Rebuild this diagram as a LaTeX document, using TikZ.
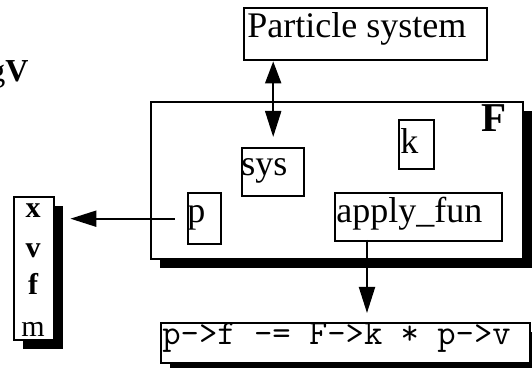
\documentclass[tikz,border=0pt]{standalone}
\usepackage{fontspec}
\setmainfont{Liberation Serif}
\usetikzlibrary{calc, arrows.meta, shadows}

\tikzset{
    box/.style={draw, line width=1.2pt, fill=white, inner sep=0pt, anchor=north west},
    shadowbox/.style={box, drop shadow={shadow xshift=4.5pt, shadow yshift=-4.5pt,
        fill=black, opacity=1}},
    lbl/.style={inner sep=0pt, anchor=north west, text height=15pt,
        font=\fontsize{18pt}{20pt}\selectfont},
    field/.style={anchor=base, inner sep=0pt, font=\fontsize{15pt}{17pt}\selectfont\bfseries},
    arr/.style={line width=1pt, -{Triangle[length=13pt, width=8pt]}},
}

\begin{document}
\begin{tikzpicture}[x=0.5pt, y=-0.5pt]
    \useasboundingbox (0,0) rectangle (532,368);

    % outer function object
    \node[shadowbox, minimum width=186pt, minimum height=78.5pt] (Fbox) at (150,101) {};
    \node[inner sep=0pt, anchor=base west, font=\fontsize{20.5pt}{22pt}\selectfont\bfseries]
        (F) at (481,132) {F};

    \node[box, minimum width=121.5pt, minimum height=26pt] (psys) at (243,7) {};
    \node[lbl, xshift=2pt] (psyst) at (psys.north west) {Particle system};

    \node[box, minimum width=17.5pt, minimum height=24.5pt] (kbox) at (398,119) {};
    \node[lbl, yshift=-2pt, xshift=1pt] (k) at (kbox.north west) {k};

    \node[box, minimum width=31pt, minimum height=24pt] (sysbox) at (241,147) {};
    \node[lbl, yshift=1pt] (sys) at (sysbox.north west) {sys};

    \node[box, minimum width=16.5pt, minimum height=25.5pt] (pbox) at (187,192) {};
    \node[lbl] (p) at (pbox.north west) {p};

    \node[box, minimum width=83.5pt, minimum height=24pt] (applybox) at (334,192) {};
    \node[lbl, xshift=1pt] (apply) at (applybox.north west) {apply\_fun};

    % particle fields
    \node[shadowbox, minimum width=20pt, minimum height=71.5pt] (stack) at (13,196) {};
    \node[field] (x) at (33,218) {x};
    \node[field] (v) at (33,258) {v};
    \node[field] (f) at (33,295) {f};
    \node[field, font=\fontsize{15pt}{17pt}\selectfont\mdseries] (m) at (33,337) {m};

    \node[inner sep=0pt, anchor=base east, font=\fontsize{16pt}{18pt}\selectfont]
        (gv) at (29,82) {g\textbf{V}};

    % code
    \node[shadowbox, minimum width=184.5pt, minimum height=20pt] (code) at (160,322) {};
    \node[inner sep=0pt, anchor=base west, font=\fontsize{17.8pt}{19pt}\selectfont\ttfamily]
        (codet) at (162,345) {p->f -= F->k * p->v};

    \coordinate (applyout) at (367,240);

    \draw[arr, {Triangle[length=11pt, width=8pt]}-{Triangle[length=13pt, width=8pt]},
        shorten >=5pt] (sysbox.north |- psys.south) -- (sysbox.north);
    \draw[arr, shorten <=6pt, shorten >=7.5pt] (pbox.west) -- (pbox.west -| stack.east);
    \draw[arr, shorten >=4.5pt] (applyout) -- (applyout |- code.north);
\end{tikzpicture}
\end{document}
